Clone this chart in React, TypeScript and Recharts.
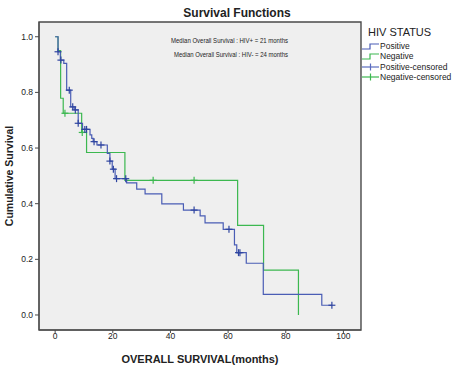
import {
  ComposedChart,
  Line,
  Scatter,
  XAxis,
  YAxis,
  CartesianGrid,
  ReferenceArea,
  Customized,
} from "recharts";

// Kaplan-Meier steps (time in months, cumulative survival)
const posTimes = [0, 1.0, 1.8, 3.0, 4.0, 5.4, 6.6, 8.0, 9.5, 12.1, 12.7, 13.2, 14.5, 18.1, 19.0, 19.8, 20.8, 24.8, 28.3, 31.2, 37.0, 44.5, 50.3, 52.0, 58.3, 62.2, 63.0, 66.3, 72.2, 92.5, 96.0];
const posSurv = [1, 0.946, 0.916, 0.904, 0.808, 0.748, 0.737, 0.689, 0.667, 0.647, 0.635, 0.623, 0.611, 0.581, 0.553, 0.524, 0.49, 0.475, 0.452, 0.435, 0.399, 0.377, 0.356, 0.331, 0.308, 0.252, 0.224, 0.186, 0.074, 0.035, 0.035];
const posCensTimes = [1.0, 2.0, 4.9, 6.1, 7.0, 8.0, 10.3, 10.9, 13.5, 15.9, 19.0, 20.2, 21.3, 24.5, 48.2, 60.3, 63.6, 64.1, 96.0];
const posCensSurv = [0.946, 0.916, 0.808, 0.748, 0.737, 0.689, 0.667, 0.667, 0.623, 0.611, 0.553, 0.524, 0.49, 0.49, 0.377, 0.308, 0.224, 0.224, 0.035];

const negTimes = [0, 1.0, 1.9, 2.8, 9.2, 10.9, 24.2, 63.3, 72.3, 84.4];
const negSurv = [1, 0.95, 0.779, 0.725, 0.656, 0.584, 0.484, 0.322, 0.161, 0];
const negCensTimes = [3.4, 9.4, 34.0, 48.2];
const negCensSurv = [0.725, 0.656, 0.484, 0.484];

const xTicks = [0, 20, 40, 60, 80, 100];
const yTicks = [0, 0.2, 0.4, 0.6, 0.8, 1.0];

const medianLines = [
  "Median Overall Survival : HIV+ = 21 months",
  "Median Overall Survival : HIV- = 24 months",
];

const legendItems = [
  { label: "Positive", color: "#4a5db5", kind: "step" },
  { label: "Negative", color: "#3cb850", kind: "step" },
  { label: "Positive-censored", color: "#5a6cc0", kind: "cross" },
  { label: "Negative-censored", color: "#3cb850", kind: "cross" },
];

const zip = (ts: number[], ss: number[]) => ts.map((t, i) => ({ t, s: ss[i] }));
const posData = zip(posTimes, posSurv);
const negData = zip(negTimes, negSurv);
const posCens = zip(posCensTimes, posCensSurv);
const negCens = zip(negCensTimes, negCensSurv);

const FONT = "'Liberation Sans', Arial, sans-serif";
const FRAME = "#4a4a4a";
const X_DOMAIN: [number, number] = [-5.6, 106.1];
const Y_DOMAIN: [number, number] = [-0.054, 1.053];

function cross(color: string) {
  return (props: any) => {
    const { cx, cy } = props;
    return (
      <g stroke={color} strokeWidth={1.2}>
        <line x1={cx - 3.5} y1={cy} x2={cx + 3.5} y2={cy} />
        <line x1={cx} y1={cy - 3.5} x2={cx} y2={cy + 3.5} />
      </g>
    );
  };
}

function Texts() {
  return (
    <g fontFamily={FONT}>
      <text x={237} y={17} textAnchor="middle" fontSize={12} fontWeight="bold" fill="#222">
        Survival Functions
      </text>
      {medianLines.map((m, i) => (
        <text
          key={m}
          x={i === 0 ? 171 : 174}
          y={43 + i * 13.5}
          fontSize={7.6}
          textLength={i === 0 ? 117 : 114}
          lengthAdjust="spacingAndGlyphs"
          fill="#222"
        >
          {m}
        </text>
      ))}
      <text x={200} y={363} textAnchor="middle" fontSize={11} fontWeight="bold" fill="#222">
        OVERALL SURVIVAL(months)
      </text>
      <text
        x={13}
        y={176}
        transform="rotate(-90 13 176)"
        textAnchor="middle"
        fontSize={10.5}
        fontWeight="bold"
        fill="#222"
      >
        Cumulative Survival
      </text>
    </g>
  );
}

function LegendBox() {
  return (
    <div style={{ position: "absolute", left: 362, top: 26, width: 95, fontFamily: FONT, color: "#222" }}>
      <div style={{ fontSize: 11, marginLeft: 6, marginBottom: 3 }}>HIV STATUS</div>
      {legendItems.map((it) => (
        <div key={it.label} style={{ display: "flex", alignItems: "center", height: 10.3, fontSize: 8.5 }}>
          <svg width={18} height={10}>
            {it.kind === "step" ? (
              <polyline points="0,8 8,8 8,3 17,3" fill="none" stroke={it.color} strokeWidth={1.2} />
            ) : (
              <g stroke={it.color} strokeWidth={1.2}>
                <line x1={0} y1={5} x2={17} y2={5} />
                <line x1={8.5} y1={1.5} x2={8.5} y2={8.5} />
              </g>
            )}
          </svg>
          <span>{it.label}</span>
        </div>
      ))}
    </div>
  );
}

export default function App() {
  return (
    <div style={{ position: "absolute", left: 0, top: 0, width: 457, height: 370, background: "#fff" }}>
      <ComposedChart width={457} height={370} margin={{ top: 22, right: 96, bottom: 0, left: 0 }}>
        <CartesianGrid horizontal={false} vertical={false} fill="#efefef" />
        <XAxis
          xAxisId="main"
          type="number"
          dataKey="t"
          domain={X_DOMAIN}
          ticks={xTicks}
          allowDataOverflow
          height={40}
          tickSize={3}
          tickMargin={0}
          tick={{ fill: "#222", fontSize: 8.5, fontFamily: FONT }}
          stroke={FRAME}
        />
        <YAxis
          yAxisId="main"
          type="number"
          dataKey="s"
          domain={Y_DOMAIN}
          ticks={yTicks}
          allowDataOverflow
          width={39}
          tickSize={4}
          tickFormatter={(v: number) => v.toFixed(1)}
          tick={{ fill: "#222", fontSize: 8.5, fontFamily: FONT }}
          stroke={FRAME}
        />
        <ReferenceArea
          xAxisId="main"
          yAxisId="main"
          x1={X_DOMAIN[0]}
          x2={X_DOMAIN[1]}
          y1={Y_DOMAIN[0]}
          y2={Y_DOMAIN[1]}
          fill="none"
          stroke={FRAME}
          strokeWidth={1.4}
        />
        <Line
          xAxisId="main"
          yAxisId="main"
          data={negData}
          dataKey="s"
          type="stepAfter"
          stroke="#3cb850"
          strokeWidth={1.2}
          dot={false}
          isAnimationActive={false}
        />
        <Line
          xAxisId="main"
          yAxisId="main"
          data={posData}
          dataKey="s"
          type="stepAfter"
          stroke="#4a5db5"
          strokeWidth={1.2}
          dot={false}
          isAnimationActive={false}
        />
        <Scatter xAxisId="main" yAxisId="main" data={negCens} shape={cross("#3cb850")} isAnimationActive={false} />
        <Scatter xAxisId="main" yAxisId="main" data={posCens} shape={cross("#2f45a0")} isAnimationActive={false} />
        <Customized component={<Texts />} />
      </ComposedChart>
      <LegendBox />
    </div>
  );
}
